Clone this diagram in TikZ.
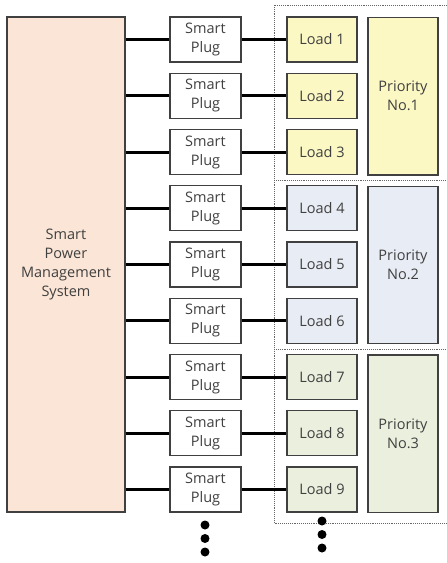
\documentclass[tikz,border=0pt]{standalone}
\usepackage{fontspec}
\setmainfont{Open Sans}
\begin{document}
\begin{tikzpicture}[x=1pt,y=-1pt,
  box/.style={draw=black!75,line width=1.1pt,inner sep=0pt,align=center,
    text=black!75,font=\fontsize{14.5}{19}\selectfont},
  plugbox/.style={box,fill=white,minimum width=71pt,minimum height=45pt},
  loadbox/.style={box,minimum width=70pt,minimum height=45pt},
  prio/.style={box,minimum width=70pt,minimum height=157.5pt},
  wire/.style={line width=3pt,black},
  frame/.style={draw=black!60,line width=0.9pt,densely dotted},
  dot/.style={circle,fill=black,inner sep=0pt,minimum size=9pt}]
\useasboundingbox (0,0) rectangle (447,563);
\definecolor{peach}{HTML}{FBE5D6}
\definecolor{pyellow}{HTML}{FBF8C4}
\definecolor{pblue}{HTML}{E8ECF4}
\definecolor{pgreen}{HTML}{EAF0DD}

% dotted frame around the loads, open to the right
\draw[frame] (447,5) -- (274,5) -- (274,523) -- (447,523);
\draw[frame] (274,180) -- (447,180);
\draw[frame] (274,349) -- (447,349);

% central controller
\node[box,fill=peach,minimum width=118pt,minimum height=495pt] (spms) at (66,264.5)
  {Smart\\Power\\Management\\System};

% plugs and loads
\foreach \k/\col in {1/pyellow,2/pyellow,3/pyellow,4/pblue,5/pblue,6/pblue,7/pgreen,8/pgreen,9/pgreen}{
  \pgfmathsetmacro{\yy}{39.5+(\k-1)*56.25}
  \node[plugbox] (plug\k) at (205.5,\yy) {Smart\\Plug};
  \node[loadbox,fill=\col] (load\k) at (322,\yy) {Load \k};
  \draw[wire] (spms.east |- plug\k.west) -- (plug\k.west);
  \draw[wire] (plug\k.east) -- (load\k.west);
}

% priority groups
\node[prio,fill=pyellow] (prio1) at (403,96.25) {Priority\\No.1};
\node[prio,fill=pblue] (prio2) at (403,265) {Priority\\No.2};
\node[prio,fill=pgreen] (prio3) at (403,433.75) {Priority\\No.3};

% continuation marks
\node[dot] (d1) at (205,525) {};
\node[dot] (d2) at (205,538.5) {};
\node[dot] (d3) at (205,552) {};
\node[dot] (e1) at (322,521) {};
\node[dot] (e2) at (322,534.5) {};
\node[dot] (e3) at (322,548) {};
\end{tikzpicture}
\end{document}
